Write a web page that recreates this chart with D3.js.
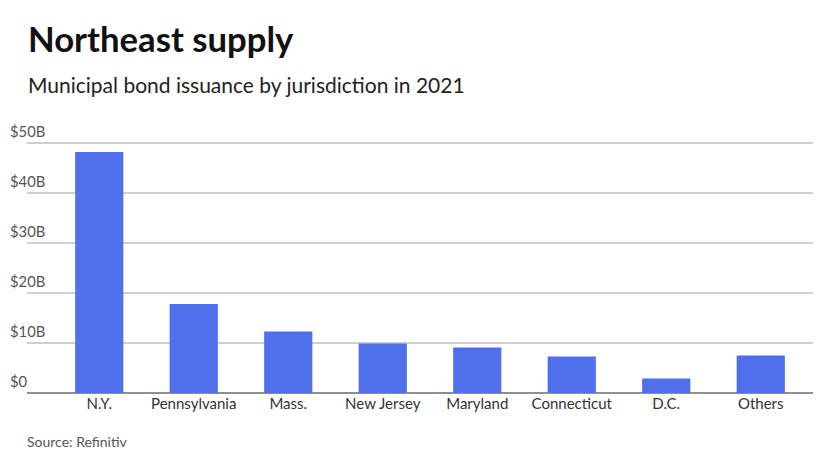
<!DOCTYPE html>
<html lang="en">
<head>
  <meta charset="UTF-8">
  <title>Northeast supply</title>
  <style>
    body { margin: 0; background: #fff; font-family: Lato, "Open Sans", sans-serif; }
    .grid line { stroke: #cfcfcf; stroke-width: 1.3; shape-rendering: crispEdges; }
    .grid .zero { stroke: #8f8f8f; }
    .ylab { font-size: 14.8px; fill: #555; }
    .xlab { font-size: 15px; fill: #333; text-anchor: middle; }
  </style>
</head>
<body>
  <svg id="chart" width="840" height="473"></svg>

  <script src="https://d3js.org/d3.v7.min.js"></script>
  <script>
    // data (billions of dollars)
    const jurisdictions = ["N.Y.", "Pennsylvania", "Mass.", "New Jersey", "Maryland", "Connecticut", "D.C.", "Others"];
    const issuance = [48.2, 17.8, 12.3, 9.9, 9.1, 7.3, 2.9, 7.5];
    const yTicks = [0, 10, 20, 30, 40, 50];

    const svg = d3.select("#chart");

    // title + subtitle
    svg.append("text")
       .attr("x", 28).attr("y", 52)
       .style("font-size", "34.7px").style("font-weight", "bold").style("fill", "#111")
       .text("Northeast supply");
    svg.append("text")
       .attr("x", 28).attr("y", 93)
       .style("font-size", "21px").style("fill", "#222")
       .text("Municipal bond issuance by jurisdiction in 2021");

    // scales
    const x = d3.scaleBand()
                .domain(jurisdictions)
                .range([52, 808])
                .paddingInner(0.49)
                .paddingOuter(0.245);

    const y = d3.scaleLinear()
                .domain([0, 50])
                .range([393, 143]);

    // gridlines
    const grid = svg.append("g").attr("class", "grid");
    grid.selectAll("line")
        .data(yTicks)
        .join("line")
        .attr("class", d => d === 0 ? "zero" : null)
        .attr("x1", 27).attr("x2", 813)
        .attr("y1", d => y(d)).attr("y2", d => y(d));

    // y labels sit above their lines
    svg.append("g")
       .selectAll("text")
       .data(yTicks)
       .join("text")
       .attr("class", "ylab")
       .attr("x", 10)
       .attr("y", d => y(d) - 6)
       .text(d => d === 0 ? "$0" : "$" + d + "B");

    // bars
    svg.append("g")
       .selectAll("rect")
       .data(issuance)
       .join("rect")
       .attr("x", (d, i) => x(jurisdictions[i]))
       .attr("y", d => y(d))
       .attr("width", x.bandwidth())
       .attr("height", d => y(0) - y(d))
       .attr("fill", "#4f70ea");

    // category labels
    svg.append("g")
       .selectAll("text")
       .data(jurisdictions)
       .join("text")
       .attr("class", "xlab")
       .attr("x", d => x(d) + x.bandwidth() / 2)
       .attr("y", 409)
       .text(d => d);

    // source
    svg.append("text")
       .attr("x", 27).attr("y", 447)
       .style("font-size", "14px").style("fill", "#555")
       .text("Source: Refinitiv");
  </script>
</body>
</html>
